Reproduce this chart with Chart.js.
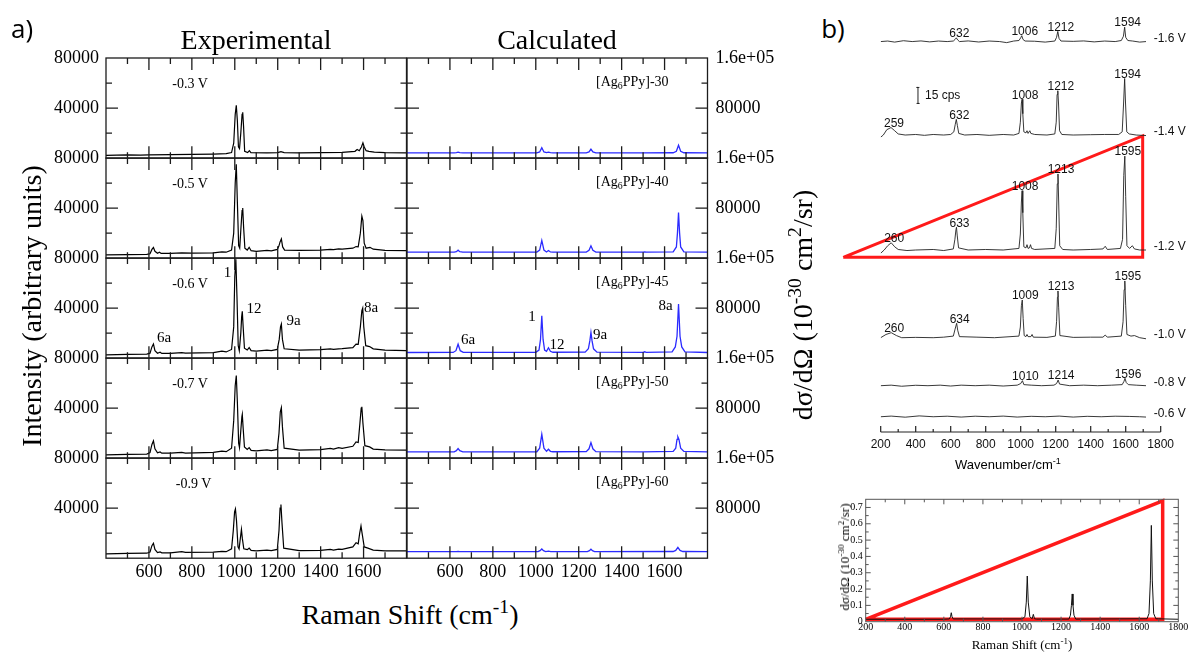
<!DOCTYPE html>
<html><head><meta charset="utf-8">
<script src="https://cdn.jsdelivr.net/npm/chart.js@4.4.1/dist/chart.umd.min.js"></script>
<style>
html,body{margin:0;padding:0;background:#fff}
body{width:1188px;height:652px;position:relative;overflow:hidden;font-family:'Liberation Serif',serif;color:#000}
canvas{position:absolute}
.t{position:absolute;white-space:nowrap;line-height:1}
.t sup{font-size:70%;vertical-align:0.55em;line-height:0}
.t sub{font-size:70%;vertical-align:-0.3em;line-height:0}
</style></head><body>
<script>
// ================= DATA =================
// Panel a) – Raman shift (cm-1) vs intensity
const shiftRangeA = [400, 1800];
const expYRange = [0, 80000];
const calcYRange = [0, 160000];
const potentialsA = ['-0.3 V', '-0.5 V', '-0.6 V', '-0.7 V', '-0.9 V'];
const modelsA = ['30', '40', '45', '50', '60'];
const xTickLabelsA = [600, 800, 1000, 1200, 1400, 1600];
const expTickValues = [40000, 80000];
const expTickText = ['40000', '80000'];
const calcTickValues = [80000, 160000];
const calcTickText = ['80000', '1.6e+05'];
const modeLabels = ['6a', '1', '12', '9a', '8a'];

const exp03 = [[400,2200],[500,2600],[560,2400],[600,2600],[700,2800],[800,3000],[900,3300],[960,3600],[985,4500],[995,12000],[1002,35000],[1007,42300],[1012,30000],[1017,9000],[1022,7600],[1028,20000],[1034,35000],[1037,36600],[1041,25000],[1046,5500],[1060,4500],[1068,6000],[1075,4500],[1150,4200],[1200,4400],[1215,5200],[1230,4400],[1300,4300],[1400,4400],[1500,4600],[1560,5500],[1570,7000],[1580,6000],[1590,9000],[1597,12200],[1603,9000],[1612,6000],[1625,5500],[1650,4800],[1700,4400],[1800,4300]];
const exp05 = [[400,2700],[500,2900],[590,3000],[605,3500],[614,7000],[621,8500],[628,5500],[640,4000],[649,4800],[657,3800],[700,3800],[753,4200],[800,4000],[900,4300],[940,5000],[960,4800],[985,6500],[995,20000],[1002,60000],[1007,75000],[1012,45000],[1018,10000],[1023,8000],[1029,25000],[1034,38000],[1037,40000],[1041,25000],[1047,8000],[1058,6500],[1067,8700],[1076,6000],[1100,5500],[1150,6300],[1170,5800],[1198,7000],[1205,9500],[1211,13000],[1217,15400],[1223,9000],[1232,6500],[1300,6200],[1400,6500],[1445,7000],[1460,6800],[1484,7400],[1500,7200],[1550,8000],[1565,9300],[1575,9000],[1585,20000],[1592,33600],[1597,30000],[1603,12000],[1612,8000],[1630,8700],[1645,7200],[1700,6300],[1800,6100]];
const exp06 = [[400,2700],[500,3000],[590,3200],[605,4000],[614,9000],[621,11400],[628,6000],[640,4000],[652,4800],[660,3800],[700,3800],[753,4500],[770,4000],[900,4500],[940,5600],[960,5000],[985,7000],[995,25000],[1000,65000],[1005,79000],[1010,50000],[1016,10000],[1021,6000],[1028,20000],[1032,33000],[1035,37400],[1039,25000],[1045,8000],[1058,6500],[1067,8500],[1076,6000],[1100,5600],[1150,6400],[1170,6000],[1198,7000],[1207,15000],[1213,25000],[1217,27300],[1222,15000],[1230,7500],[1300,6500],[1400,6800],[1445,7400],[1460,7000],[1484,7500],[1500,7600],[1550,8500],[1565,11200],[1575,11000],[1585,25000],[1592,38000],[1596,40000],[1601,25000],[1610,10000],[1628,9300],[1645,7500],[1700,6500],[1800,6000]];
const exp07 = [[400,2600],[500,3000],[590,3300],[605,4500],[614,11000],[621,13800],[628,7500],[640,4300],[652,5000],[660,4000],[700,4000],[753,4600],[770,4100],[900,4600],[940,5600],[960,5200],[985,8000],[995,30000],[1002,58000],[1007,66000],[1012,45000],[1018,12000],[1022,8400],[1028,22000],[1033,33000],[1035,35000],[1039,24000],[1045,9000],[1058,7000],[1067,8400],[1076,6200],[1100,5800],[1150,6600],[1170,6000],[1198,7000],[1206,20000],[1212,37000],[1217,40300],[1222,25000],[1230,8000],[1300,6500],[1400,6800],[1445,7800],[1460,7200],[1484,8400],[1500,7800],[1550,9500],[1565,13000],[1575,12500],[1583,28000],[1589,40000],[1592,41000],[1597,28000],[1606,10000],[1628,9000],[1645,7300],[1700,6600],[1800,6400]];
const exp09 = [[400,3400],[500,3800],[590,4000],[605,5000],[614,10000],[621,11900],[628,7000],[640,4500],[652,5000],[660,4300],[700,4300],[753,5200],[770,4600],[900,4800],[940,5400],[960,5200],[985,7500],[993,22000],[999,37000],[1003,39300],[1008,30000],[1015,9000],[1020,7400],[1026,16000],[1031,23000],[1035,16000],[1042,7500],[1058,6800],[1067,8000],[1076,6200],[1100,5800],[1150,6400],[1170,6000],[1198,7000],[1206,22000],[1211,40000],[1215,42800],[1220,28000],[1228,8000],[1300,6000],[1400,6200],[1445,7000],[1460,6500],[1484,7200],[1500,7000],[1550,9000],[1565,12400],[1575,11500],[1582,20000],[1588,25800],[1593,20000],[1603,9000],[1620,8000],[1645,6500],[1700,5900],[1800,5800]];

const calc30 = [[400,8600],[620,8600],[630,9000],[638,9600],[646,9000],[660,8600],[1005,8600],[1018,10000],[1028,16800],[1038,10000],[1050,8800],[1059,9800],[1068,8800],[1080,8600],[1235,8600],[1248,10000],[1257,14600],[1266,10000],[1280,8600],[1500,8600],[1640,8700],[1655,11000],[1665,20700],[1675,11000],[1690,8700],[1800,8600]];
const calc40 = [[400,9600],[620,9600],[630,10500],[638,12800],[646,10500],[660,9700],[1005,9800],[1018,13000],[1028,28300],[1038,13000],[1050,10000],[1059,12300],[1068,10000],[1080,9700],[1235,9800],[1248,12500],[1257,19800],[1266,12500],[1280,9800],[1500,9700],[1507,10000],[1515,9700],[1640,10000],[1655,18000],[1660,40000],[1665,73100],[1670,40000],[1675,18000],[1690,10200],[1800,9600]];
const calc45 = [[400,9100],[615,9200],[628,12000],[638,22400],[648,12000],[662,9300],[1000,9400],[1015,13000],[1022,30000],[1028,67800],[1034,30000],[1041,13000],[1050,11000],[1059,16600],[1068,11000],[1080,9500],[1230,9600],[1245,15000],[1252,28000],[1257,41100],[1262,28000],[1269,15000],[1285,9600],[1500,9300],[1507,10200],[1515,9300],[1635,10000],[1650,18000],[1658,35000],[1665,86400],[1672,35000],[1680,18000],[1695,10000],[1800,9100]];
const calc50 = [[400,10100],[620,10200],[630,12000],[638,15400],[646,12000],[660,10200],[1005,10300],[1018,16000],[1028,38200],[1038,16000],[1050,11000],[1059,14300],[1068,11000],[1080,10300],[1235,10400],[1248,15000],[1257,24800],[1266,15000],[1280,10400],[1500,10200],[1640,10800],[1652,16000],[1658,30000],[1662,34000],[1667,30000],[1675,16000],[1690,10800],[1800,10100]];
const calc60 = [[400,10500],[630,10500],[638,11000],[646,10500],[1010,10600],[1020,12000],[1028,14800],[1036,12000],[1046,10600],[1059,11200],[1070,10600],[1240,10600],[1250,12000],[1257,14300],[1264,12000],[1274,10600],[1640,10700],[1652,12500],[1662,17400],[1672,12500],[1685,10700],[1800,10500]];

// Panel b) – SERS spectra (cps, relative to each trace's own baseline)
const wavenumberRangeB = [200, 1800];
const cpsRangeB = [0, 400];
const potentialsB = ['-1.6 V', '-1.4 V', '-1.2 V', '-1.0 V', '-0.8 V', '-0.6 V'];
const offsetsB = [366, 278.4, 170.6, 88.4, 43.4, 14.3];
const bTickLabels = [200, 400, 600, 800, 1000, 1200, 1400, 1600, 1800];
const tr16 = [[200,0],[240,0.5],[280,-0.5],[330,0.8],[380,0],[430,0.6],[480,-0.3],[530,0.5],[580,0],[615,0.5],[625,2],[632,3.5],[640,1.5],[650,0],[700,0.6],[760,-0.4],[820,0.5],[880,0],[920,-1],[960,0.5],[990,1],[1000,3.5],[1006,5.5],[1013,2],[1025,0.5],[1080,0.3],[1140,-0.5],[1195,0.5],[1205,4],[1212,9.5],[1219,3],[1230,0.5],[1300,0.2],[1360,0.6],[1420,-0.3],[1480,0.5],[1540,0],[1575,1],[1587,5],[1594,13.5],[1600,4],[1612,1],[1640,0.5],[1680,-0.5],[1716,0]];
const tr14 = [[200,-2],[215,0],[235,5],[259,7],[280,4],[300,1],[340,0],[400,0.5],[450,-0.3],[500,0.5],[560,0],[600,0.5],[618,3],[626,10],[632,14.7],[638,9],[646,1.5],[680,0],[750,0.5],[820,-0.3],[900,0.5],[960,0],[990,1.5],[998,12],[1004,30],[1008,33.5],[1012,20],[1018,3],[1030,2],[1036,4],[1042,1.5],[1052,4],[1058,1.5],[1080,0.5],[1150,0],[1195,1],[1203,12],[1208,38],[1212,41.5],[1216,30],[1222,4],[1235,0.5],[1300,0],[1400,0.3],[1480,0.5],[1560,0.5],[1580,3],[1588,30],[1594,53],[1599,30],[1606,3],[1620,1],[1660,0],[1716,-0.5]];
const tr12 = [[200,-3],[220,0],[240,4],[260,6.8],[280,3],[300,0.5],[350,-0.5],[400,0],[500,0.5],[560,-0.5],[615,1],[624,10],[630,19],[633,21.3],[637,14],[645,2],[700,0],[800,0.5],[900,0],[990,1.5],[998,15],[1004,45],[1008,55.6],[1012,35],[1018,3],[1030,2],[1036,5],[1042,1.5],[1050,2],[1056,5],[1062,1.5],[1080,0.5],[1195,1.5],[1203,20],[1209,62],[1213,71.3],[1217,45],[1223,4],[1240,0.5],[1300,0],[1400,0.5],[1470,1],[1483,3.5],[1495,0.5],[1570,1.5],[1582,10],[1589,70],[1595,88],[1600,50],[1607,4],[1622,1.5],[1638,4],[1650,1],[1680,0],[1716,0]];
const tr10 = [[200,0],[230,3],[260,4.7],[290,2],[320,0],[400,0.3],[500,0],[560,0.5],[615,1.5],[625,8],[634,13.5],[640,7],[650,1],[750,0.5],[850,0],[990,1.5],[998,10],[1004,30],[1009,35.3],[1014,18],[1020,2],[1030,1],[1036,3],[1042,1],[1058,1],[1065,3],[1072,0.5],[1150,0.3],[1198,1.5],[1205,15],[1210,38],[1213,43.8],[1217,28],[1224,2],[1300,0.3],[1400,0.5],[1470,0.5],[1483,2.5],[1495,0.5],[1575,1.5],[1585,15],[1591,45],[1595,53.2],[1600,30],[1607,3],[1630,1.5],[1650,2],[1680,0],[1716,-1]];
const tr08 = [[200,0],[260,0.5],[320,-0.5],[400,0.4],[470,0],[540,0.5],[600,-0.3],[660,0.5],[740,0],[820,0.5],[900,-0.3],[980,0.5],[1000,2],[1010,4.7],[1018,1],[1060,0.5],[1120,0],[1190,0.5],[1205,2],[1214,5.3],[1222,1.5],[1280,0],[1360,0.5],[1440,0],[1520,0.5],[1580,1],[1590,4],[1596,6.9],[1603,3],[1615,1],[1660,0.5],[1716,0]];
const tr06 = [[200,0],[260,0.6],[340,-0.4],[420,0.8],[500,0],[580,0.5],[660,-0.3],[740,0.5],[820,0],[900,0.6],[980,-0.3],[1060,0.4],[1140,0],[1220,0.6],[1300,-0.3],[1380,0.4],[1460,0],[1540,0.5],[1620,0.3],[1680,0],[1716,-0.3]];
const peakLabelsB = [[632,1006,1212,1594],[259,632,1008,1212,1594],[260,633,1008,1213,1595],[260,634,1009,1213,1595],[1010,1214,1596],[]];
const scaleBarB = [[405,308],[421,308],[413,308],[413,323],[405,323],[421,323]];
const triangleB = [[-14,163.8],[1697,277.5],[1697,163.8],[-14,163.8]];

// Inset – calculated cross-section (10^-30 cm^2/sr)
const shiftRangeC = [200, 1800];
const sigmaRangeC = [0, 0.75];
const sigmaTickLabels = ['0','0.1','0.2','0.3','0.4','0.5','0.6','0.7'];
const shiftTickLabelsC = [200, 400, 600, 800, 1000, 1200, 1400, 1600, 1800];
const sigmaCalc = [[200,0.015],[600,0.015],[628,0.017],[634,0.03],[638,0.055],[642,0.03],[648,0.017],[1000,0.017],[1015,0.03],[1022,0.12],[1027,0.28],[1032,0.12],[1040,0.03],[1052,0.018],[1058,0.045],[1064,0.018],[1075,0.016],[1240,0.016],[1248,0.04],[1253,0.1],[1257,0.17],[1261,0.1],[1266,0.04],[1275,0.016],[1640,0.018],[1650,0.05],[1657,0.25],[1662,0.59],[1667,0.25],[1674,0.05],[1685,0.018],[1800,0.015]];
const triangleC = [[200,0.015],[1720,0.74],[1720,0.015],[200,0.015]];

// ================= LAYOUT / HELPERS =================
const LA = {x1:106, x2:406.5, w:300.5, top:57.5, rowH:100.2};
const SERIF = "'Liberation Serif', 'Times New Roman', serif";
const SANS = "'Liberation Sans', Arial, sans-serif";

function toXY(arr){ return arr.map(p => ({x:p[0], y:p[1]})); }
function lineDS(arr, color, width, extra){ return Object.assign({data:toXY(arr), borderColor:color, borderWidth:width, pointRadius:0, fill:false, tension:0}, extra||{}); }

function makeChart(box, pad, xr, yr, datasets, plugins){
  const cv = document.createElement('canvas');
  const w = Math.round(box.w + pad.l + pad.r), h = Math.round(box.h + pad.t + pad.b);
  cv.width = w; cv.height = h;
  cv.style.left = (box.x - pad.l) + 'px'; cv.style.top = (box.y - pad.t) + 'px';
  cv.style.width = w + 'px'; cv.style.height = h + 'px';
  document.body.appendChild(cv);
  return new Chart(cv, {
    type:'line',
    data:{datasets},
    options:{
      responsive:false, animation:false, devicePixelRatio:1, events:[],
      layout:{padding:{left:pad.l, right:w - pad.l - box.w, top:pad.t, bottom:h - pad.t - box.h}},
      plugins:{legend:{display:false}, tooltip:{enabled:false}},
      scales:{x:{type:'linear', min:xr[0], max:xr[1], display:false}, y:{type:'linear', min:yr[0], max:yr[1], display:false}}
    },
    plugins
  });
}

// framed box with inward ticks on all four sides
function boxDeco(o){
  return {id:'boxdeco', afterDatasetsDraw(ch){
    const {ctx, chartArea:a} = ch, sx = ch.scales.x, sy = ch.scales.y;
    ctx.save();
    ctx.strokeStyle = o.color; ctx.lineWidth = o.lw;
    ctx.strokeRect(a.left, a.top, a.right - a.left, a.bottom - a.top);
    ctx.beginPath();
    for (let v = o.xStart; v < o.xEnd; v += o.xStep){
      const px = sx.getPixelForValue(v), L = (Math.round(v / o.xStep) % 2 === 0) === o.xEvenMajor ? o.maj : o.min;
      ctx.moveTo(px, a.bottom); ctx.lineTo(px, a.bottom - L);
      ctx.moveTo(px, a.top); ctx.lineTo(px, a.top + L);
    }
    for (let k = 1; k < o.yCount; k++){
      const v = sy.min + k * (sy.max - sy.min) / o.yCount;
      const py = sy.getPixelForValue(v), L = (k % o.yMajEvery === 0) ? o.maj : o.min;
      ctx.moveTo(a.left, py); ctx.lineTo(a.left + L, py);
      ctx.moveTo(a.right, py); ctx.lineTo(a.right - L, py);
    }
    ctx.stroke();
    ctx.fillStyle = '#000'; ctx.font = o.font; ctx.textBaseline = 'middle';
    if (o.yLabels){
      ctx.textAlign = o.ySide === 'left' ? 'right' : 'left';
      const xx = o.ySide === 'left' ? a.left - o.yGap : a.right + o.yGap;
      o.yLabels.forEach((v, i) => ctx.fillText(o.yText[i], xx, sy.getPixelForValue(v)));
    }
    if (o.xLabels){
      ctx.textAlign = 'center';
      o.xLabels.forEach(v => ctx.fillText(String(v), sx.getPixelForValue(v), a.bottom + o.xGap));
    }
    ctx.restore();
  }};
}

function addText(html, x, y, css, anchor, rot){
  const d = document.createElement('div');
  d.className = 't'; d.innerHTML = html;
  d.style.cssText = 'left:' + x + 'px;top:' + y + 'px;' + (css || '');
  const tx = anchor === 'l' ? '0' : anchor === 'r' ? '-100%' : '-50%';
  d.style.transform = 'translate(' + tx + ',-50%)' + (rot ? ' rotate(' + rot + 'deg)' : '');
  if (rot) d.style.transformOrigin = '0 0';
  document.body.appendChild(d);
  return d;
}
function addRotated(html, cx, cy, css){
  const d = document.createElement('div');
  d.className = 't'; d.innerHTML = html;
  d.style.cssText = 'left:' + cx + 'px;top:' + cy + 'px;' + (css || '');
  d.style.transform = 'translate(-50%,-50%) rotate(-90deg)';
  document.body.appendChild(d);
}

// ================= PANEL a) =================
const expSeries = [exp03, exp05, exp06, exp07, exp09];
const calcSeries = [calc30, calc40, calc45, calc50, calc60];
const fontA = "18px " + SERIF;
for (let i = 0; i < 5; i++){
  const top = LA.top + i * LA.rowH, last = i === 4;
  const common = {color:'#1c1c1c', lw:1.3, xStart:500, xEnd:1800, xStep:100, xEvenMajor:true, maj:12, min:6, yCount:4, yMajEvery:2, font:fontA, yGap:7, xGap:14};
  makeChart({x:LA.x1, y:top, w:LA.w, h:LA.rowH}, {l:80, r:12, t:14, b:last ? 30 : 14}, shiftRangeA, expYRange,
    [lineDS(expSeries[i], '#000', 1.2)],
    [boxDeco(Object.assign({}, common, {ySide:'left', yLabels:expTickValues, yText:expTickText, xLabels:last ? xTickLabelsA : null}))]);
  makeChart({x:LA.x2, y:top, w:LA.w, h:LA.rowH}, {l:12, r:85, t:14, b:last ? 30 : 14}, shiftRangeA, calcYRange,
    [lineDS(calcSeries[i], '#2b2bff', 1.3)],
    [boxDeco(Object.assign({}, common, {ySide:'right', yLabels:calcTickValues, yText:calcTickText, yGap:8, xLabels:last ? xTickLabelsA : null}))]);
  addText(potentialsA[i], i === 4 ? 193.5 : 190, top + 26, 'font:14px ' + SERIF);
  addText('[Ag<sub>6</sub>PPy]-' + modelsA[i], 596, top + 24, 'font:14px ' + SERIF, 'l');
}
// mode labels (row -0.6 V / [Ag6PPy]-45)
const modePosExp = [[164,337],[227.5,272],[254,308],[293.5,319.5],[371,307]];
const modePosCalc = [[468,339],[532,316],[557,343.5],[600,333.5],[665.5,305]];
modeLabels.forEach((m, k) => {
  addText(m, modePosExp[k][0], modePosExp[k][1], 'font:15px ' + SERIF);
  addText(m, modePosCalc[k][0], modePosCalc[k][1], 'font:15px ' + SERIF);
});
addText('Experimental', 256, 40, 'font:28px ' + SERIF);
addText('Calculated', 557, 40, 'font:28px ' + SERIF);
addRotated('Intensity (arbitrary units)', 32, 306, 'font:28px ' + SERIF);
addRotated('d&sigma;/d&Omega; (10<sup>-30</sup> cm<sup>2</sup>/sr)', 803, 305, 'font:28px ' + SERIF);
addText('Raman Shift (cm<sup>-1</sup>)', 410, 615, 'font:28px ' + SERIF);
addText('a)', 22, 28, "font:26px 'Open Sans', sans-serif");
addText('b)', 833, 28, "font:26px 'Open Sans', sans-serif");

// ================= PANEL b) =================
const tracesB = [tr16, tr14, tr12, tr10, tr08, tr06];
const bDeco = {id:'bdeco', afterDatasetsDraw(ch){
  const {ctx, chartArea:a} = ch, x = ch.scales.x, y = ch.scales.y;
  ctx.save();
  ctx.strokeStyle = '#222'; ctx.lineWidth = 1.2;
  const yb = a.bottom;
  ctx.beginPath();
  ctx.moveTo(x.getPixelForValue(200), yb); ctx.lineTo(x.getPixelForValue(1800), yb);
  for (let v = 200; v <= 1800; v += 100){
    const px = x.getPixelForValue(v);
    ctx.moveTo(px, yb); ctx.lineTo(px, yb - (v % 200 === 0 ? 6 : 3));
  }
  ctx.stroke();
  ctx.fillStyle = '#111'; ctx.font = '12px ' + SANS; ctx.textBaseline = 'middle'; ctx.textAlign = 'center';
  bTickLabels.forEach(v => ctx.fillText(String(v), x.getPixelForValue(v), yb + 13));
  ctx.textAlign = 'left';
  potentialsB.forEach((p, i) => ctx.fillText(p, x.getPixelForValue(1800) - 7, y.getPixelForValue(offsetsB[i]) - 3));
  ctx.textAlign = 'center';
  peakLabelsB.forEach((labs, i) => {
    const tr = tracesB[i];
    labs.forEach(v => {
      let m = -Infinity;
      tr.forEach(p => { if (Math.abs(p[0] - v) <= 15) m = Math.max(m, p[1]); });
      ctx.fillText(String(v), x.getPixelForValue(v) + 3, y.getPixelForValue(offsetsB[i] + m) - 4);
    });
  });
  ctx.textAlign = 'left';
  ctx.fillText('15 cps', x.getPixelForValue(scaleBarB[2][0]) + 7, y.getPixelForValue((scaleBarB[2][1] + scaleBarB[3][1]) / 2));
  ctx.restore();
}};
const dsB = tracesB.map((tr, i) => lineDS(tr.map(p => [p[0], p[1] + offsetsB[i]]), '#222', 0.9));
dsB.push(lineDS(scaleBarB, '#222', 1));
dsB.push(lineDS(triangleB, '#ff1a1a', 3, {clip:false, borderJoinStyle:'miter'}));
makeChart({x:880.7, y:5.3, w:280, h:426.7}, {l:60.7, r:27.3, t:5.3, b:43}, wavenumberRangeB, cpsRangeB, dsB, [bDeco]);
addText('Wavenumber/cm<sup>-1</sup>', 1008, 464, 'font:13px ' + SANS);

// ================= INSET =================
makeChart({x:865.7, y:499.3, w:312.6, h:122.4}, {l:45.7, r:9.7, t:19.3, b:30.3}, shiftRangeC, sigmaRangeC,
  [lineDS(sigmaCalc, '#111', 1), lineDS(triangleC, '#ff1a1a', 3.5, {clip:false, borderJoinStyle:'miter'})],
  [boxDeco({color:'#555', lw:1, xStart:300, xEnd:1800, xStep:100, xEvenMajor:true, maj:5, min:3, yCount:15, yMajEvery:2,
    font:'10px ' + SERIF, ySide:'left', yGap:3, yLabels:sigmaTickLabels.map(Number), yText:sigmaTickLabels, xLabels:shiftTickLabelsC, xGap:6})]);
addRotated('d&sigma;/d&Omega; (10<sup>-30</sup> cm<sup>2</sup>/sr)', 845, 557, 'font:13px ' + SERIF);
addText('Raman Shift (cm<sup>-1</sup>)', 1022, 645, 'font:13px ' + SERIF);
</script>
</body></html>
